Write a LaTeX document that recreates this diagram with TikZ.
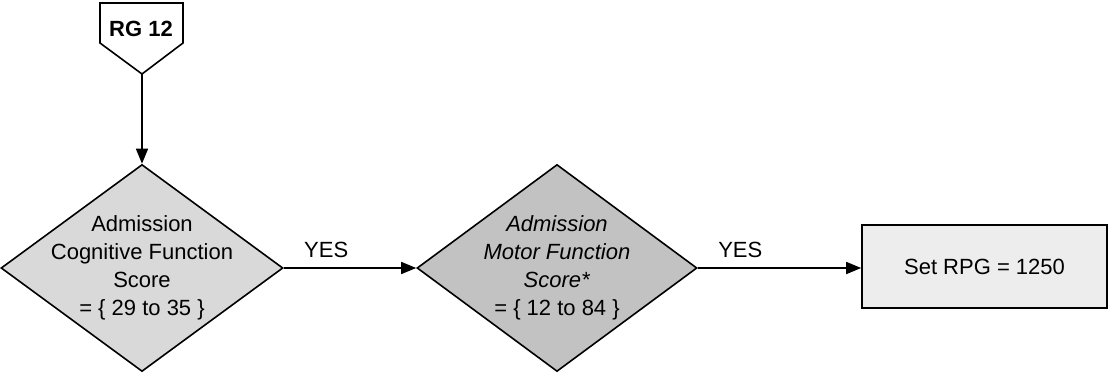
\documentclass[tikz,border=0pt]{standalone}
\usepackage{fontspec}
\setmainfont{Liberation Sans}
\usetikzlibrary{shapes.geometric, arrows.meta}

\tikzset{
  txt/.style={font=\fontsize{22}{28}\selectfont, align=center},
  decision/.style={diamond, draw, line width=1.6pt, inner sep=0pt},
  stepbox/.style={rectangle, draw, line width=1.6pt, fill=black!7,
    minimum width=245pt, minimum height=83pt, txt},
}

\begin{document}
\begin{tikzpicture}[x=1pt, y=-1pt, line width=1.6pt,
    >={Triangle[length=15pt,width=12pt]}]

    \useasboundingbox (0,0) rectangle (1108,375);

    % off-page connector
    \draw[fill=white] (100,3) -- (183,3) -- (183,43) -- (142,74) -- (100,43) -- cycle;
    \node[txt, font=\fontsize{22}{28}\selectfont\bfseries] (rg) at (141,29) {RG 12};
    \coordinate (rgtip) at (142,74);

    \node[decision, fill=black!15, minimum width=282pt, minimum height=207pt,
      label={[txt]center:Admission\\Cognitive Function\\Score\\= \{ 29 to 35 \}}]
      (cog) at (142,268) {};

    \node[decision, fill=black!24, minimum width=280pt, minimum height=207pt,
      label={[txt]center:\textit{Admission}\\\textit{Motor Function}\\\textit{Score*}\\= \{ 12 to 84 \}}]
      (motor) at (557,268) {};

    \node[stepbox] (rpg) at (984.5,266.5) {Set RPG = 1250};

    \draw[->] (rgtip) -- (cog.north);
    \draw[->] (cog.east) -- node[txt, pos=0.32, above=9pt, inner sep=0pt] (yes1) {YES} (motor.west);
    \draw[->] (motor.east) -- node[txt, pos=0.26, above=9pt, inner sep=0pt] (yes2) {YES} (motor.east -| rpg.west);

\end{tikzpicture}
\end{document}
